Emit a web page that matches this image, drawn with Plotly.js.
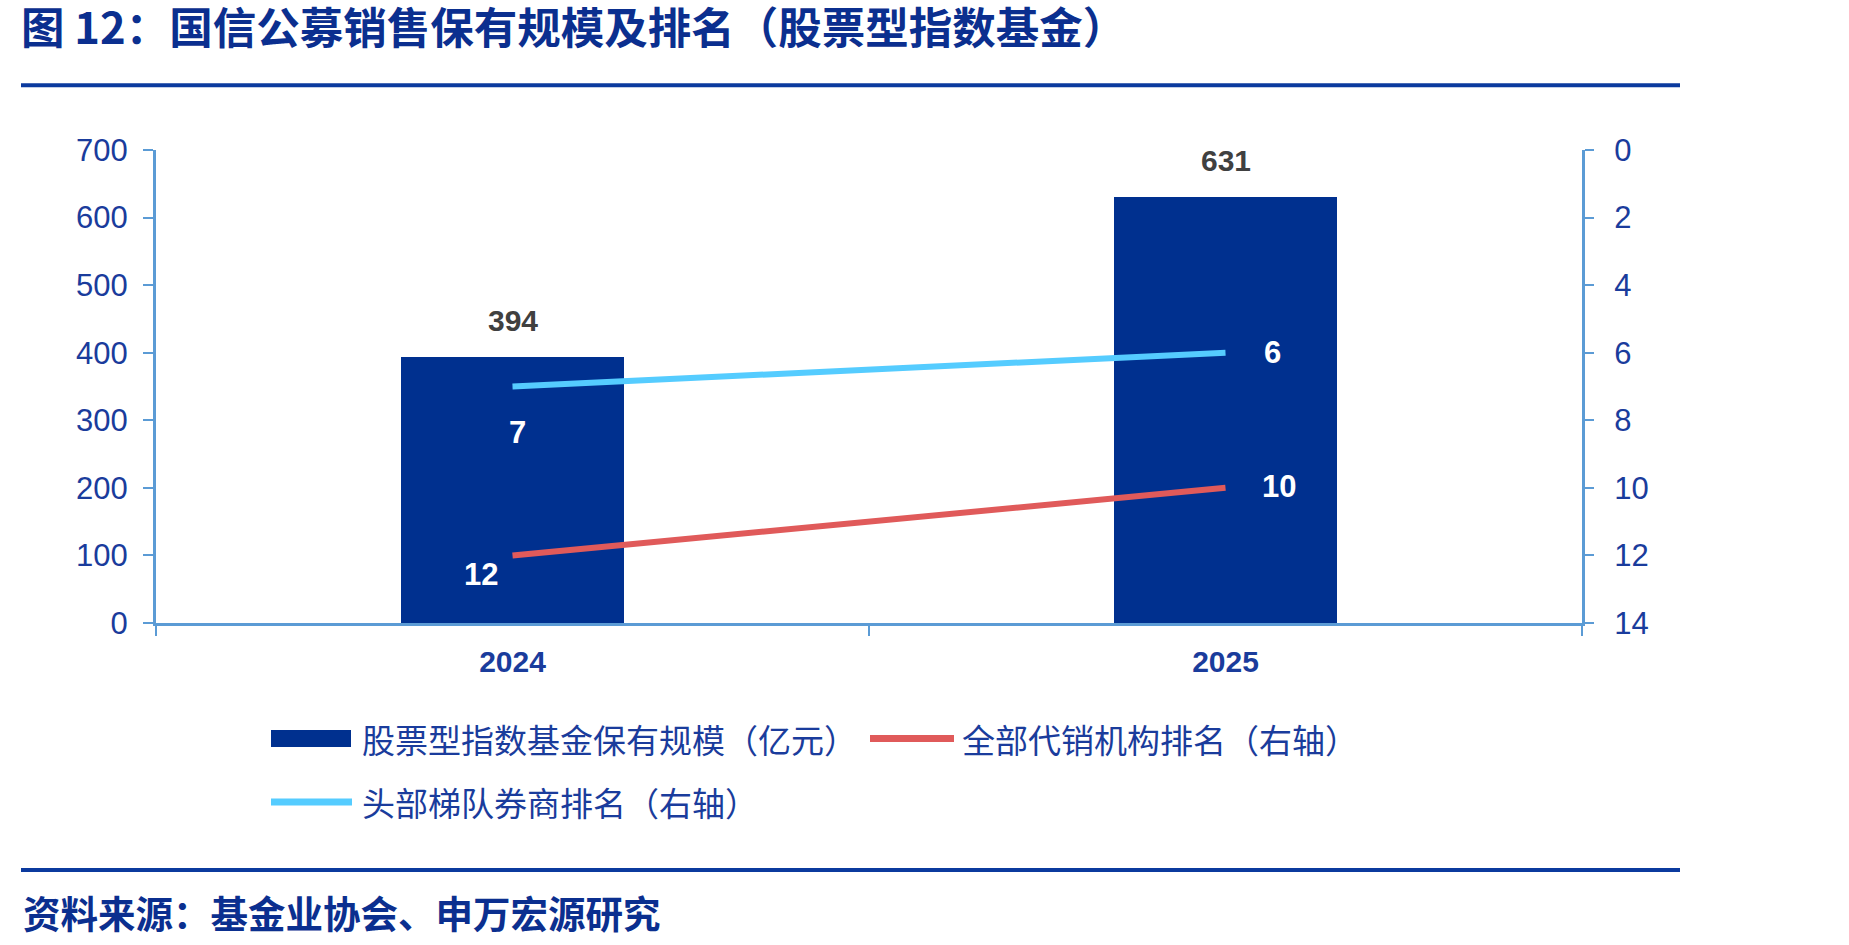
<!DOCTYPE html>
<html>
<head>
<meta charset="utf-8">
<script src="https://cdn.plot.ly/plotly-3.0.1.min.js"></script>
<style>
html,body{margin:0;padding:0;background:#fff;}
#chart{width:1849px;height:945px;}
</style>
</head>
<body>
<div id="chart"></div>
<script>
// ---- data ----
const categories = ['2024', '2025'];
const holdings = [394, 631];          // 股票型指数基金保有规模（亿元）
const rankAll = [12, 10];             // 全部代销机构排名（右轴）
const rankTop = [7, 6];               // 头部梯队券商排名（右轴）
const seriesNames = ['股票型指数基金保有规模（亿元）', '全部代销机构排名（右轴）', '头部梯队券商排名（右轴）'];
const titleText = '图 12：国信公募销售保有规模及排名（股票型指数基金）';
const sourceText = '资料来源：基金业协会、申万宏源研究';

// ---- layout geometry ----
const W = 1849, H = 945;
const L = 156, R = 267, T = 150, B = 322;
const PW = W - L - R, PH = H - T - B;
const px = v => (v - L) / PW;
const py = v => (H - B - v) / PH;

const navy = '#00308F';
const tickBlue = '#1A3C9C';
const axisBlue = '#5B9BD5';
const cyan = '#55CCFF';
const red = '#E05A5A';
const cjk = '"Noto Sans CJK SC", "Liberation Sans", sans-serif';
const num = '"Liberation Sans", Arial, sans-serif';

const traces = [
  {type: 'bar', x: categories, y: holdings, name: seriesNames[0], marker: {color: navy}, width: 0.313, yaxis: 'y', hoverinfo: 'skip'},
  {type: 'scatter', mode: 'lines', x: categories, y: rankAll, name: seriesNames[1], line: {color: red, width: 6}, yaxis: 'y2', hoverinfo: 'skip'},
  {type: 'scatter', mode: 'lines', x: categories, y: rankTop, name: seriesNames[2], line: {color: cyan, width: 6}, yaxis: 'y2', hoverinfo: 'skip'}
];

const annotations = [];
// bar value labels (x given as category index)
holdings.forEach((v, i) => annotations.push({
  x: i, y: v, xref: 'x', yref: 'y', text: String(v), showarrow: false,
  yanchor: 'middle', yshift: 36, font: {family: num, size: 30, color: '#404040', weight: 'bold'}
}));
// rank labels
const topShift = [{xanchor: 'center', xshift: 5, yshift: -46}, {xanchor: 'left', xshift: 36, yshift: 0}];
const allShift = [{xanchor: 'center', xshift: -32, yshift: -19}, {xanchor: 'left', xshift: 34, yshift: 1}];
rankTop.forEach((v, i) => annotations.push(Object.assign({
  x: i, y: v, xref: 'x', yref: 'y2', text: String(v), showarrow: false, yanchor: 'middle',
  font: {family: num, size: 31, color: '#FFFFFF', weight: 'bold'}
}, topShift[i])));
rankAll.forEach((v, i) => annotations.push(Object.assign({
  x: i, y: v, xref: 'x', yref: 'y2', text: String(v), showarrow: false, yanchor: 'middle',
  font: {family: num, size: 31, color: '#FFFFFF', weight: 'bold'}
}, allShift[i])));

// custom legend
const legendItems = [
  {name: seriesNames[0], kind: 'bar', color: navy, x0: 271, x1: 351, y: 738.5, tx: 360},
  {name: seriesNames[1], kind: 'line', color: red, x0: 870, x1: 954, y: 738.5, tx: 960},
  {name: seriesNames[2], kind: 'line', color: cyan, x0: 271, x1: 352, y: 802, tx: 360}
];
const shapes = [];
legendItems.forEach(it => {
  if (it.kind === 'bar') {
    shapes.push({type: 'rect', xref: 'paper', yref: 'paper', x0: px(it.x0), x1: px(it.x1), y0: py(it.y + 8.5), y1: py(it.y - 8.5),
      fillcolor: it.color, line: {width: 0}});
  } else {
    shapes.push({type: 'line', xref: 'paper', yref: 'paper', x0: px(it.x0), x1: px(it.x1), y0: py(it.y), y1: py(it.y),
      line: {color: it.color, width: 7}});
  }
  annotations.push({xref: 'paper', yref: 'paper', x: px(it.tx), y: py(it.y), xanchor: 'left', yanchor: 'middle',
    text: it.name, showarrow: false, font: {family: cjk, size: 33, color: tickBlue}});
});

// rules
shapes.push({type: 'line', xref: 'paper', yref: 'paper', x0: px(21), x1: px(1680), y0: py(85.3), y1: py(85.3), line: {color: '#0B3A9E', width: 4}});
shapes.push({type: 'line', xref: 'paper', yref: 'paper', x0: px(21), x1: px(1680), y0: py(870), y1: py(870), line: {color: '#0B3A9E', width: 4}});

// source
annotations.push({xref: 'paper', yref: 'paper', x: px(21), y: py(911), xanchor: 'left', yanchor: 'middle',
  text: sourceText, showarrow: false, font: {family: cjk, size: 37.5, color: '#0B2F8F', weight: 'bold'}});

const layout = {
  width: W, height: H,
  margin: {l: L, r: R, t: T, b: B, pad: 0, autoexpand: false},
  paper_bgcolor: '#FFFFFF', plot_bgcolor: '#FFFFFF',
  showlegend: false,
  title: {text: titleText, xref: 'container', yref: 'container', x: 21 / W, xanchor: 'left', y: 1 - 29 / H, yanchor: 'middle',
    font: {family: cjk, size: 43.5, color: '#0B2F8F', weight: 'bold'}},
  xaxis: {type: 'category', range: [-0.5, 1.5], tickson: 'boundaries', ticks: 'outside', ticklen: 10, tickwidth: 2, tickcolor: axisBlue,
    showline: true, linecolor: axisBlue, linewidth: 3, showgrid: false, zeroline: false, ticklabelstandoff: 10,
    tickfont: {family: num, size: 30, color: tickBlue, weight: 'bold'}, fixedrange: true},
  yaxis: {range: [0, 700], dtick: 100, tick0: 0, ticks: 'outside', ticklen: 10, tickwidth: 2, tickcolor: axisBlue,
    showline: true, linecolor: axisBlue, linewidth: 3, showgrid: false, zeroline: false, ticklabelstandoff: 9,
    tickfont: {family: num, size: 31, color: tickBlue}, fixedrange: true},
  yaxis2: {range: [14, 0], dtick: 2, tick0: 0, overlaying: 'y', side: 'right', ticks: 'outside', ticklen: 9, tickwidth: 2, tickcolor: axisBlue,
    showline: true, linecolor: axisBlue, linewidth: 3, showgrid: false, zeroline: false, ticklabelstandoff: 14,
    tickfont: {family: num, size: 31, color: tickBlue}, fixedrange: true},
  bargap: 0,
  annotations: annotations,
  shapes: shapes
};

Plotly.newPlot('chart', traces, layout, {staticPlot: true, displayModeBar: false});
</script>
</body>
</html>
